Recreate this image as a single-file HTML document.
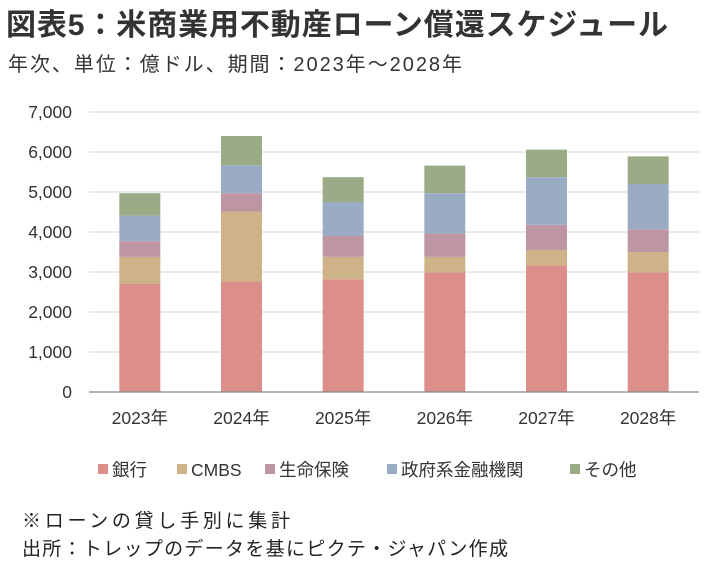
<!DOCTYPE html>
<html><head><meta charset="utf-8"><style>
body{margin:0;width:712px;height:568px;background:#fff;font-family:"Liberation Sans","Noto Sans CJK JP",sans-serif;color:#222;overflow:hidden}
</style></head><body>
<svg width="712" height="568" style="position:absolute;left:0;top:0;font-family:'Liberation Sans','Noto Sans CJK JP',sans-serif">
<text x="6" y="35" font-size="30" font-weight="bold" fill="#333" textLength="662" lengthAdjust="spacing">図表5：米商業用不動産ローン償還スケジュール</text>
<text x="8" y="71" font-size="20" fill="#333" textLength="454" lengthAdjust="spacing">年次、単位：億ドル、期間：2023年～2028年</text>
<g id="grid"></g><g id="bars"></g><g id="axes"></g><g id="legend"></g>
<text x="22" y="527" font-size="19" fill="#222" textLength="268" lengthAdjust="spacing">※ローンの貸し手別に集計</text>
<text x="22" y="555" font-size="19" fill="#222" textLength="486" lengthAdjust="spacing">出所：トレップのデータを基にピクテ・ジャパン作成</text>
</svg>
<script>
const categories=["2023年","2024年","2025年","2026年","2027年","2028年"];
const seriesNames=["銀行","CMBS","生命保険","政府系金融機関","その他"];
const bank=[2710,2760,2820,2990,3160,2990];
const cmbs=[670,1750,560,390,390,510];
const life=[390,460,520,580,630,570];
const gov=[640,700,850,1010,1190,1130];
const other=[560,730,620,690,690,690];
const yTicks=[0,1000,2000,3000,4000,5000,6000,7000];
const series=[bank,cmbs,life,gov,other];
const colors=["#dc8f8a","#cdb387","#bd95a3","#9aacc3","#9aab86"];
const NS="http://www.w3.org/2000/svg";
const x0=89,x1=699,yBase=392,yTop=112,yMax=7000;
const y=v=>yBase-(v/yMax)*(yBase-yTop);
const band=(x1-x0)/categories.length;
const xc=i=>x0+band*(i+0.5);
function mk(t,a,p){const e=document.createElementNS(NS,t);for(const k in a)e.setAttribute(k,a[k]);p.appendChild(e);return e;}
const grid=document.getElementById('grid'),bars=document.getElementById('bars'),axes=document.getElementById('axes'),leg=document.getElementById('legend');
yTicks.forEach(t=>{
 if(t>0){const l=mk('line',{x1:x0,x2:x1,y1:y(t),y2:y(t),stroke:'#e3e3e3','stroke-width':1.5},grid);
 
 }
 const tx=mk('text',{x:72,y:y(t)+6,'text-anchor':'end','font-size':17.5,fill:'#333'},axes);
 tx.textContent=t.toLocaleString('en-US');
 
 
});
categories.forEach((c,i)=>{
 let acc=0;
 series.forEach((s,j)=>{
  const r=mk('rect',{x:xc(i)-20.5,width:41,y:y(acc+s[i]),height:y(acc)-y(acc+s[i]),fill:colors[j]},bars);
  
  
  acc+=s[i];
 });
 const tx=mk('text',{x:xc(i),y:424,'text-anchor':'middle','font-size':17.5,fill:'#333'},axes);
 tx.textContent=c;
 
 
});
const ax=mk('line',{x1:x0,x2:x1,y1:yBase,y2:yBase,stroke:'#888','stroke-width':1.2},axes);


const lx=[98,177,265,387,570];
seriesNames.forEach((n,j)=>{
 const g=mk('g',{},leg);
 
 
 mk('rect',{x:lx[j],y:464,width:10,height:10,fill:colors[j]},g);
 const t=mk('text',{x:lx[j]+14,y:476,'font-size':17.5,fill:'#333'},g);
 t.textContent=n;
});
</script>
</body></html>
